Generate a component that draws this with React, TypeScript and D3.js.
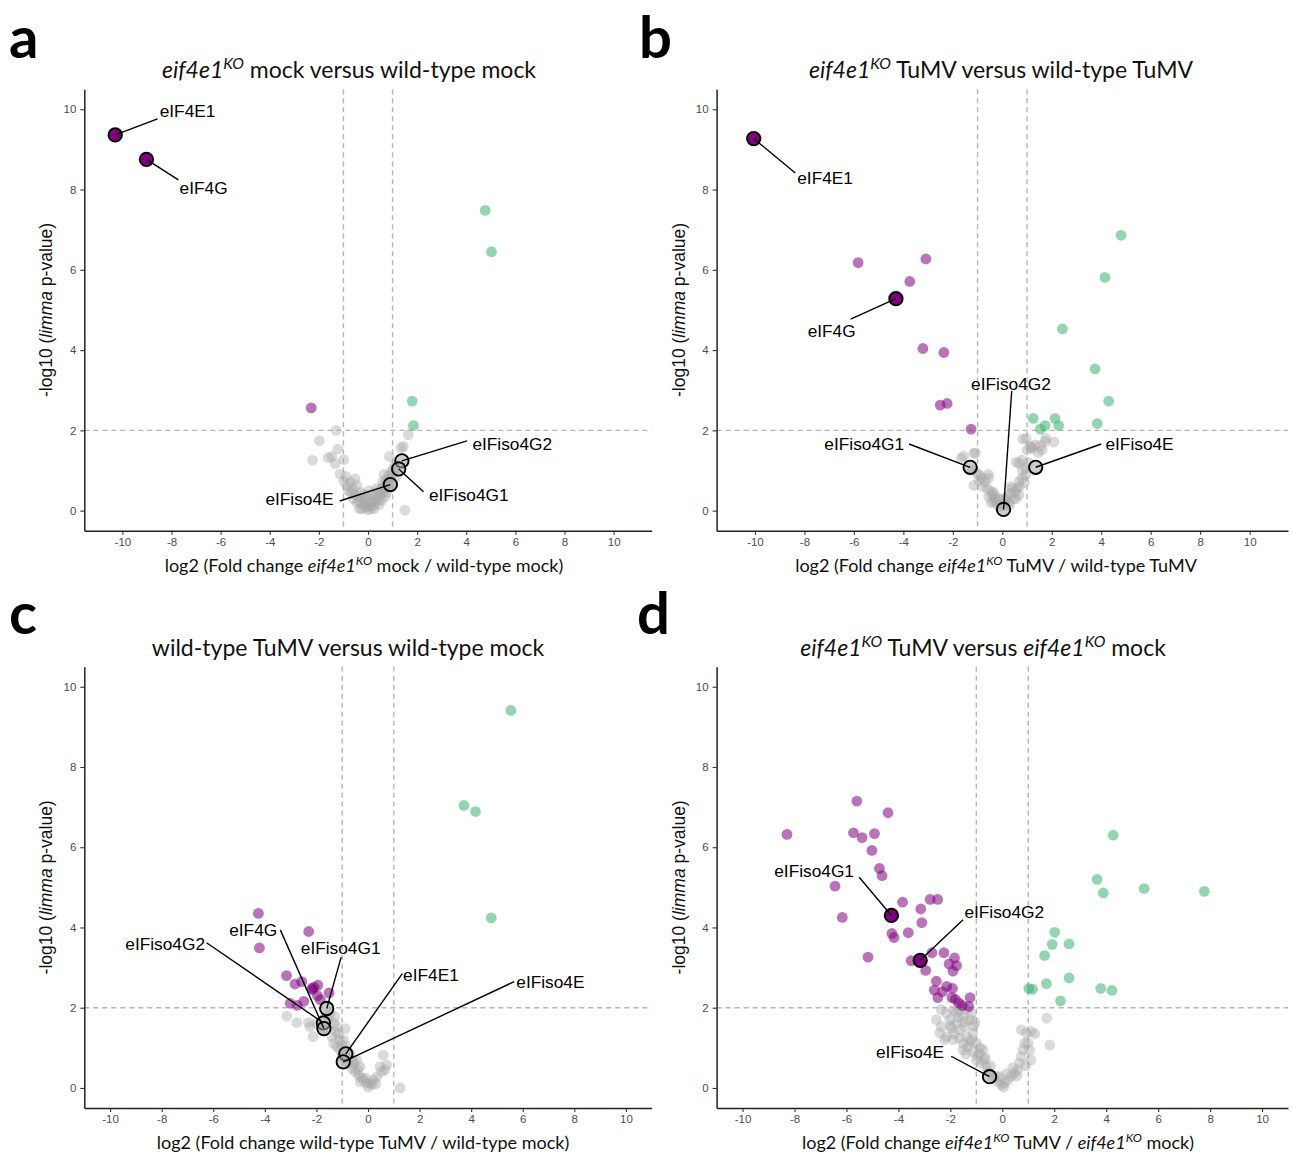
import React, { useRef, useEffect } from 'react';
import * as d3 from 'd3';

type Pt = [number, number];

// ---------- shared ----------
const xTicks = [-10, -8, -6, -4, -2, 0, 2, 4, 6, 8, 10];
const yTicks = [0, 2, 4, 6, 8, 10];
const foldCut = 1;
const pCut = 2;

// ---------- panel a : eif4e1KO mock vs wild-type mock ----------
const aDown: Pt[] = [[-2.31, 2.56]];
const aUp: Pt[] = [[4.77, 7.48], [5.03, 6.45], [1.80, 2.73], [1.85, 2.12]];
const aGray: Pt[] = [
  [-1.30, 2.0], [-1.98, 1.74], [-2.26, 1.26], [-1.23, 1.53], [-1.48, 1.35], [-1.62, 1.32], [-0.99, 1.27],
  [-1.34, 1.17], [-1.14, 0.91], [-0.98, 0.73], [-0.53, 0.79], [-0.85, 0.62], [-0.72, 0.70], [-0.62, 0.55],
  [-0.45, 0.62], [-0.70, 0.45], [-0.55, 0.40], [-0.40, 0.35], [-0.30, 0.45], [-0.35, 0.22], [-0.25, 0.30],
  [-0.20, 0.15], [-0.12, 0.25], [-0.10, 0.08], [-0.05, 0.18], [0.0, 0.02], [0.05, 0.12], [0.10, 0.05],
  [0.15, 0.22], [0.20, 0.12], [0.25, 0.30], [0.30, 0.20], [0.35, 0.38], [0.40, 0.28], [0.45, 0.48],
  [0.50, 0.38], [0.55, 0.55], [0.60, 0.45], [0.65, 0.65], [0.70, 0.58], [0.75, 0.78], [0.80, 0.68],
  [0.85, 0.88], [0.90, 0.80], [0.95, 0.98], [1.00, 0.90], [1.05, 1.05], [1.10, 1.15], [0.87, 1.35],
  [1.44, 1.60], [1.64, 1.89], [1.50, 0.01], [0.70, 0.35], [0.35, 0.55], [-0.15, 0.40], [0.60, 0.72],
  [-0.80, 0.50], [1.15, 0.85], [0.25, 0.05], [-0.25, 0.05], [1.35, 1.56], [-0.60, 0.30], [-0.45, 0.20],
  [-0.05, 0.35], [0.15, 0.40], [0.45, 0.15], [0.55, 0.25], [0.75, 0.45], [-0.35, 0.05], [0.05, 0.50],
  [0.95, 0.65], [0.65, 0.90], [-0.90, 0.85],
];
const aGenes = ['eIF4E1', 'eIF4G', 'eIFiso4G2', 'eIFiso4G1', 'eIFiso4E'];
const aGeneFC = [-10.29, -9.02, 1.38, 1.25, 0.91];
const aGeneP = [9.36, 8.75, 1.24, 1.04, 0.65];
const aGeneSig = ['down', 'down', 'ns', 'ns', 'ns'];

// ---------- panel b : eif4e1KO TuMV vs wild-type TuMV ----------
const bDown: Pt[] = [
  [-5.83, 6.18], [-3.09, 6.27], [-3.74, 5.71], [-3.21, 4.04], [-2.36, 3.94], [-2.51, 2.63], [-2.23, 2.67], [-1.26, 2.03],
];
const bUp: Pt[] = [
  [4.80, 6.86], [4.15, 5.81], [2.43, 4.53], [3.75, 3.53], [4.30, 2.73], [3.84, 2.17], [1.25, 2.30],
  [2.13, 2.30], [1.73, 2.12], [1.54, 2.03], [2.28, 2.12],
];
const bGray: Pt[] = [
  [-1.56, 1.36], [-1.15, 1.43], [-1.08, 1.44], [-1.66, 1.30], [-1.22, 1.01], [-1.02, 0.93], [-0.82, 0.81],
  [-0.55, 0.81], [-0.90, 0.88], [-0.70, 0.72], [-1.15, 0.63], [-0.78, 0.60], [-0.56, 0.90], [-0.41, 0.39],
  [-0.55, 0.35], [-0.27, 0.27], [-0.34, 0.22], [-0.45, 0.48], [-0.20, 0.15], [-0.10, 0.10], [0.13, 0.27],
  [0.33, 0.43], [0.53, 0.47], [0.67, 0.39], [0.45, 0.30], [0.25, 0.20], [0.20, 0.35], [0.40, 0.55],
  [0.56, 1.21], [0.67, 0.72], [0.80, 0.81], [0.94, 0.89], [0.80, 1.01], [0.80, 1.26], [1.00, 1.51],
  [0.83, 1.78], [1.13, 1.60], [1.34, 1.64], [1.61, 1.51], [1.74, 1.72], [1.20, 1.55], [0.67, 1.18],
  [1.45, 1.45], [0.70, 0.60], [0.90, 0.70], [-0.30, 0.35], [0.05, 0.30], [-0.60, 0.55], [1.05, 1.20],
  [1.55, 1.62], [2.09, 1.71], [1.76, 1.80], [0.96, 1.80], [1.18, 1.58], [-0.45, 0.20], [-0.15, 0.30],
  [0.30, 0.15], [0.55, 0.30], [0.60, 0.55], [-0.35, 0.45], [0.35, 0.60], [0.95, 1.05], [-0.95, 0.75],
  [0.10, 0.12],
];
const bGenes = ['eIF4E1', 'eIF4G', 'eIFiso4G2', 'eIFiso4G1', 'eIFiso4E'];
const bGeneFC = [-10.05, -4.30, 0.05, -1.30, 1.35];
const bGeneP = [9.27, 5.28, 0.03, 1.08, 1.08];
const bGeneSig = ['down', 'down', 'ns', 'ns', 'ns'];

// ---------- panel c : wild-type TuMV vs wild-type mock ----------
const cDown: Pt[] = [
  [-4.25, 4.35], [-4.21, 3.49], [-2.30, 3.90], [-3.16, 2.80], [-2.83, 2.59], [-2.57, 2.65], [-2.18, 2.48],
  [-2.09, 2.51], [-1.94, 2.56], [-1.96, 2.30], [-1.51, 2.37], [-3.02, 2.11], [-2.74, 2.06], [-2.49, 2.16],
  [-2.15, 2.45], [-1.85, 2.20],
];
const cUp: Pt[] = [[5.54, 9.41], [3.72, 7.04], [4.17, 6.89], [4.78, 4.24]];
const cGray: Pt[] = [
  [-3.15, 1.79], [-2.76, 1.63], [-2.31, 1.63], [-2.25, 1.53], [-2.12, 1.28], [-1.98, 1.61], [-1.28, 1.77],
  [-1.47, 1.86], [-1.33, 1.61], [-1.21, 1.53], [-0.89, 1.48], [-1.40, 1.28], [-1.33, 1.11], [-1.21, 1.03],
  [-1.08, 0.94], [-1.02, 0.78], [-0.95, 1.20], [-0.70, 0.86], [-0.76, 0.61], [-0.63, 0.49], [-0.44, 0.69],
  [-0.50, 0.41], [-0.31, 0.53], [-0.37, 0.32], [-0.25, 0.25], [-0.18, 0.20], [-0.05, 0.12], [0.08, 0.12],
  [0.0, 0.02], [0.21, 0.20], [0.34, 0.28], [0.15, 0.08], [0.53, 0.41], [0.59, 0.82], [0.72, 0.57],
  [0.47, 0.53], [0.66, 0.45], [1.24, 0.0], [-1.15, 1.35], [-0.85, 1.05], [-0.60, 0.70], [-1.55, 1.70],
  [-1.10, 1.20], [-0.90, 0.75], [0.30, 0.10], [-1.75, 1.45], [-0.55, 0.60], [-0.40, 0.45], [-0.10, 0.25],
  [-0.30, 0.15], [-1.25, 1.40], [-1.00, 1.05],
];
const cGenes = ['eIFiso4G1', 'eIFiso4G2', 'eIF4G', 'eIF4E1', 'eIFiso4E'];
const cGeneFC = [-1.60, -1.73, -1.71, -0.86, -0.96];
const cGeneP = [1.98, 1.62, 1.48, 0.85, 0.65];
const cGeneSig = ['ns', 'ns', 'ns', 'ns', 'ns'];

// ---------- panel d : eif4e1KO TuMV vs eif4e1KO mock ----------
const dDown: Pt[] = [
  [-8.29, 6.32], [-5.60, 7.15], [-4.40, 6.86], [-5.73, 6.36], [-5.40, 6.24], [-4.92, 6.34], [-5.02, 5.92],
  [-4.73, 5.47], [-4.63, 5.29], [-6.44, 5.03], [-6.16, 4.25], [-5.17, 3.26], [-3.84, 4.63], [-4.25, 3.85],
  [-4.17, 3.75], [-3.62, 3.87], [-3.14, 4.46], [-2.78, 4.70], [-2.49, 4.70], [-3.10, 4.12], [-3.51, 3.17],
  [-2.71, 3.37], [-2.25, 3.37], [-1.84, 3.24], [-2.05, 3.09], [-1.76, 3.05], [-1.90, 2.91], [-2.95, 2.93],
  [-2.54, 2.66], [-2.62, 2.44], [-2.48, 2.25], [-2.14, 2.53], [-1.92, 2.48], [-1.94, 2.25], [-1.67, 2.12],
  [-1.54, 2.05], [-1.24, 2.25], [-1.29, 2.03], [-1.81, 2.21], [-2.30, 2.40],
];
const dUp: Pt[] = [
  [4.27, 6.30], [3.65, 5.20], [3.89, 4.86], [5.46, 4.97], [7.78, 4.90], [2.02, 3.88], [1.92, 3.58],
  [2.57, 3.59], [1.63, 3.30], [2.57, 2.74], [1.70, 2.60], [1.02, 2.48], [1.16, 2.46], [3.79, 2.48],
  [4.22, 2.43], [2.24, 2.17],
];
const dGray: Pt[] = [
  [-2.35, 1.95], [-2.15, 1.86], [-1.89, 1.94], [-1.64, 1.95], [-1.38, 1.95], [-1.19, 1.86], [-1.25, 1.70],
  [-1.51, 1.78], [-1.77, 1.88], [-2.54, 1.70], [-2.35, 1.53], [-2.02, 1.70], [-1.77, 1.61], [-1.96, 1.49],
  [-1.64, 1.45], [-1.45, 1.53], [-2.41, 1.37], [-2.15, 1.28], [-2.22, 1.20], [-1.89, 1.20], [-1.64, 1.24],
  [-1.38, 1.28], [-1.13, 1.37], [-1.00, 1.12], [-1.51, 0.95], [-1.32, 1.03], [-1.13, 0.91], [-0.88, 0.87],
  [-1.00, 0.70], [-0.81, 0.62], [-0.62, 0.54], [-0.36, 0.24], [-0.17, 0.16], [-0.04, 0.08], [0.09, 0.12],
  [0.21, 0.20], [0.34, 0.29], [0.47, 0.37], [0.60, 0.45], [0.66, 0.62], [0.73, 0.78], [0.79, 0.95],
  [0.86, 1.12], [0.92, 1.37], [0.73, 1.45], [0.99, 1.12], [1.05, 0.95], [1.11, 1.41], [1.71, 1.74],
  [1.83, 1.07], [-1.25, 1.15], [-1.50, 1.10], [-0.95, 0.80], [-0.70, 0.70], [-0.55, 0.40], [-0.25, 0.30],
  [0.55, 0.30], [0.40, 0.50], [1.25, 1.35], [-1.70, 1.75], [-2.00, 1.55], [-1.10, 1.55], [-0.85, 1.00],
  [1.10, 0.70], [0.90, 0.55], [-1.45, 1.65], [-1.20, 1.20], [-0.75, 0.95], [-0.65, 0.75], [-0.45, 0.55],
  [-0.10, 0.28], [0.15, 0.35], [0.05, 0.02], [-1.85, 1.35], [-1.05, 1.65], [-1.40, 0.85],
];
const dGenes = ['eIFiso4G1', 'eIFiso4G2', 'eIFiso4E'];
const dGeneFC = [-4.27, -3.16, -0.49];
const dGeneP = [4.30, 3.18, 0.28];
const dGeneSig = ['down', 'down', 'ns'];

// ---------- label placement (repel-style, in data units) ----------
type LabelPos = { tx: number; ty: number; anchor: string; lx: number; ly: number };
const aLabelPos: LabelPos[] = [
  { tx: -8.48, ty: 9.96, anchor: 'start', lx: -8.57, ly: 9.76 },
  { tx: -7.67, ty: 8.03, anchor: 'start', lx: -7.72, ly: 8.24 },
  { tx: 4.25, ty: 1.65, anchor: 'start', lx: 4.03, ly: 1.74 },
  { tx: 2.48, ty: 0.40, anchor: 'start', lx: 2.26, ly: 0.47 },
  { tx: -1.40, ty: 0.29, anchor: 'end', lx: -1.15, ly: 0.24 },
];
const bLabelPos: LabelPos[] = [
  { tx: -8.29, ty: 8.28, anchor: 'start', lx: -8.37, ly: 8.41 },
  { tx: -7.87, ty: 4.48, anchor: 'start', lx: -6.13, ly: 4.77 },
  { tx: 0.35, ty: 3.16, anchor: 'middle', lx: 0.38, ly: 2.98 },
  { tx: -3.97, ty: 1.66, anchor: 'end', lx: -3.77, ly: 1.66 },
  { tx: 4.17, ty: 1.66, anchor: 'start', lx: 4.0, ly: 1.66 },
];
const cLabelPos: LabelPos[] = [
  { tx: -1.06, ty: 3.49, anchor: 'middle', lx: -1.04, ly: 3.26 },
  { tx: -6.32, ty: 3.59, anchor: 'end', lx: -6.26, ly: 3.62 },
  { tx: -3.52, ty: 3.94, anchor: 'end', lx: -3.40, ly: 3.94 },
  { tx: 1.36, ty: 2.82, anchor: 'start', lx: 1.33, ly: 2.85 },
  { tx: 5.75, ty: 2.64, anchor: 'start', lx: 5.67, ly: 2.65 },
];
const dLabelPos: LabelPos[] = [
  { tx: -5.71, ty: 5.42, anchor: 'end', lx: -5.51, ly: 5.25 },
  { tx: -1.46, ty: 4.38, anchor: 'start', lx: -1.51, ly: 4.19 },
  { tx: -2.24, ty: 0.89, anchor: 'end', lx: -1.97, ly: 0.79 },
];

type Part = { t: string; i?: boolean; sup?: boolean };
const KO: Part[] = [{ t: 'eif4e1', i: true }, { t: 'KO', i: true, sup: true }];

const COL_DOWN = '#800080';
const COL_UP = '#3CB371';
const COL_NS = '#a6a6a6';
const TITLE_FONT = 'Lato, "Open Sans", sans-serif';
const ARIAL = '"Liberation Sans", Arial, sans-serif';

const renderParts = (parts: Part[], size: number) => {
  const out: React.ReactNode[] = [];
  let lifted = false;
  parts.forEach((p, k) => {
    let dy = 0;
    if (p.sup && !lifted) { dy = -size * 0.38; lifted = true; }
    else if (!p.sup && lifted) { dy = size * 0.38; lifted = false; }
    out.push(
      <tspan key={k} dy={dy || undefined} fontStyle={p.i ? 'italic' : 'normal'} fontSize={p.sup ? size * 0.68 : size}>
        {p.t}
      </tspan>
    );
  });
  return out;
};

const Axes = ({ x, y, bottom, left }: any) => {
  const xRef = useRef<SVGGElement>(null);
  const yRef = useRef<SVGGElement>(null);
  useEffect(() => {
    const gx = d3.select(xRef.current!);
    gx.selectAll('*').remove();
    gx.call(d3.axisBottom(x).tickValues(xTicks).tickSize(4).tickSizeOuter(0).tickPadding(3) as any);
    const gy = d3.select(yRef.current!);
    gy.selectAll('*').remove();
    gy.call(d3.axisLeft(y).tickValues(yTicks).tickSize(4).tickSizeOuter(0).tickPadding(4) as any);
    [gx, gy].forEach((g) => {
      g.select('.domain').attr('stroke', '#222').attr('stroke-width', 1.5);
      g.selectAll('.tick line').attr('stroke', '#333').attr('stroke-width', 1.1);
      g.selectAll('.tick text').attr('fill', '#4d4d4d').attr('font-size', 11.5).attr('font-family', ARIAL);
    });
    gx.selectAll('.tick text').text((d: any) => (d < 0 ? '-' + Math.abs(d) : String(d)));
  }, [x, y]);
  return (
    <g>
      <g ref={xRef} transform={`translate(0,${bottom})`} />
      <g ref={yRef} transform={`translate(${left},0)`} />
    </g>
  );
};

const Panel = ({ cfg }: any) => {
  const { left, right, top, bottom } = cfg;
  const x = d3.scaleLinear().domain(cfg.xDomain).range([left, right]);
  const y = d3.scaleLinear().domain([-0.5, 10.5]).range([bottom, top]);
  const dash = '5,4';
  const dashCol = '#b5b5b5';
  const genes = cfg.genes.map((g: string, i: number) => ({
    name: g, fc: cfg.fc[i], p: cfg.p[i], sig: cfg.sig[i], pos: cfg.labelPos[i],
  }));
  const fillOf = (s: string) => (s === 'down' ? COL_DOWN : s === 'up' ? COL_UP : COL_NS);
  return (
    <g>
      <text x={cfg.letterX} y={cfg.letterY} fontFamily={TITLE_FONT} fontWeight={700} fontSize={58} fill="#000">
        {cfg.letter}
      </text>
      <text x={cfg.titleX} y={top - 11} textAnchor="middle" fontFamily={TITLE_FONT} fontSize={23} fill="#111">
        {renderParts(cfg.title, 23)}
      </text>
      <line x1={x(-foldCut)} x2={x(-foldCut)} y1={top} y2={bottom} stroke={dashCol} strokeWidth={1.4} strokeDasharray={dash} />
      <line x1={x(foldCut)} x2={x(foldCut)} y1={top} y2={bottom} stroke={dashCol} strokeWidth={1.4} strokeDasharray={dash} />
      <line x1={left} x2={right} y1={y(pCut)} y2={y(pCut)} stroke={dashCol} strokeWidth={1.4} strokeDasharray={dash} />
      <g>
        {cfg.gray.map((d: Pt, i: number) => (
          <circle key={'g' + i} cx={x(d[0])} cy={y(d[1])} r={5.4} fill={COL_NS} fillOpacity={0.42} />
        ))}
        {cfg.down.map((d: Pt, i: number) => (
          <circle key={'d' + i} cx={x(d[0])} cy={y(d[1])} r={5.4} fill={COL_DOWN} fillOpacity={0.55} />
        ))}
        {cfg.up.map((d: Pt, i: number) => (
          <circle key={'u' + i} cx={x(d[0])} cy={y(d[1])} r={5.4} fill={COL_UP} fillOpacity={0.55} />
        ))}
      </g>
      <g>
        {genes.map((g: any) => (
          <circle key={'c' + g.name} cx={x(g.fc)} cy={y(g.p)} r={6.7} fill={fillOf(g.sig)}
            fillOpacity={g.sig === 'ns' ? 0.55 : 1} stroke="#000" strokeWidth={1.9} />
        ))}
        {genes.map((g: any) => (
          <g key={'l' + g.name}>
            <line x1={x(g.fc)} y1={y(g.p)} x2={x(g.pos.lx)} y2={y(g.pos.ly)} stroke="#000" strokeWidth={1.4} />
            <text x={x(g.pos.tx)} y={y(g.pos.ty)} dy="0.35em" textAnchor={g.pos.anchor} fontFamily={ARIAL}
              fontSize={17.3} fill="#000">
              {g.name}
            </text>
          </g>
        ))}
      </g>
      <Axes x={x} y={y} bottom={bottom} left={left} />
      <text x={cfg.xTitleX} y={bottom + 41} textAnchor="middle" fontFamily={TITLE_FONT} fontSize={18} fill="#111">
        {renderParts(cfg.xTitle, 18)}
      </text>
      <text transform={`translate(${left - 32},${(top + bottom) / 2}) rotate(-90)`} textAnchor="middle"
        fontFamily={ARIAL} fontSize={17.5} fill="#111">
        {renderParts([{ t: '-log10 (' }, { t: 'limma', i: true }, { t: ' p-value)' }], 17.5)}
      </text>
    </g>
  );
};

const panels = [
  {
    letter: 'a', letterX: 9, letterY: 58, left: 84.3, right: 651.7, top: 89.2, bottom: 530.7,
    xDomain: [-11.55, 11.55], titleX: 349, xTitleX: 364,
    title: [...KO, { t: ' mock versus wild-type mock' }],
    xTitle: [{ t: 'log2 (Fold change ' }, ...KO, { t: ' mock / wild-type mock)' }],
    gray: aGray, down: aDown, up: aUp,
    genes: aGenes, fc: aGeneFC, p: aGeneP, sig: aGeneSig, labelPos: aLabelPos,
  },
  {
    letter: 'b', letterX: 639, letterY: 58, left: 716.6, right: 1288, top: 89.2, bottom: 530.7,
    xDomain: [-11.55, 11.55], titleX: 1001, xTitleX: 996,
    title: [...KO, { t: ' TuMV versus wild-type TuMV' }],
    xTitle: [{ t: 'log2 (Fold change ' }, ...KO, { t: ' TuMV / wild-type TuMV' }],
    gray: bGray, down: bDown, up: bUp,
    genes: bGenes, fc: bGeneFC, p: bGeneP, sig: bGeneSig, labelPos: bLabelPos,
  },
  {
    letter: 'c', letterX: 9, letterY: 634, left: 84.3, right: 651.7, top: 666.7, bottom: 1108,
    xDomain: [-11, 11], titleX: 348, xTitleX: 363,
    title: [{ t: 'wild-type TuMV versus wild-type mock' }],
    xTitle: [{ t: 'log2 (Fold change wild-type TuMV / wild-type mock)' }],
    gray: cGray, down: cDown, up: cUp,
    genes: cGenes, fc: cGeneFC, p: cGeneP, sig: cGeneSig, labelPos: cLabelPos,
  },
  {
    letter: 'd', letterX: 637, letterY: 634, left: 716.6, right: 1288, top: 666.7, bottom: 1108,
    xDomain: [-11, 11], titleX: 983, xTitleX: 998,
    title: [...KO, { t: ' TuMV versus ' }, ...KO, { t: ' mock' }],
    xTitle: [{ t: 'log2 (Fold change ' }, ...KO, { t: ' TuMV / ' }, ...KO, { t: ' mock)' }],
    gray: dGray, down: dDown, up: dUp,
    genes: dGenes, fc: dGeneFC, p: dGeneP, sig: dGeneSig, labelPos: dLabelPos,
  },
];

export default function App() {
  return (
    <svg width={1292} height={1154} style={{ position: 'absolute', left: 0, top: 0, background: '#fff' }}>
      <rect width={1292} height={1154} fill="#fff" />
      {panels.map((p) => (
        <Panel key={p.letter} cfg={p} />
      ))}
    </svg>
  );
}
